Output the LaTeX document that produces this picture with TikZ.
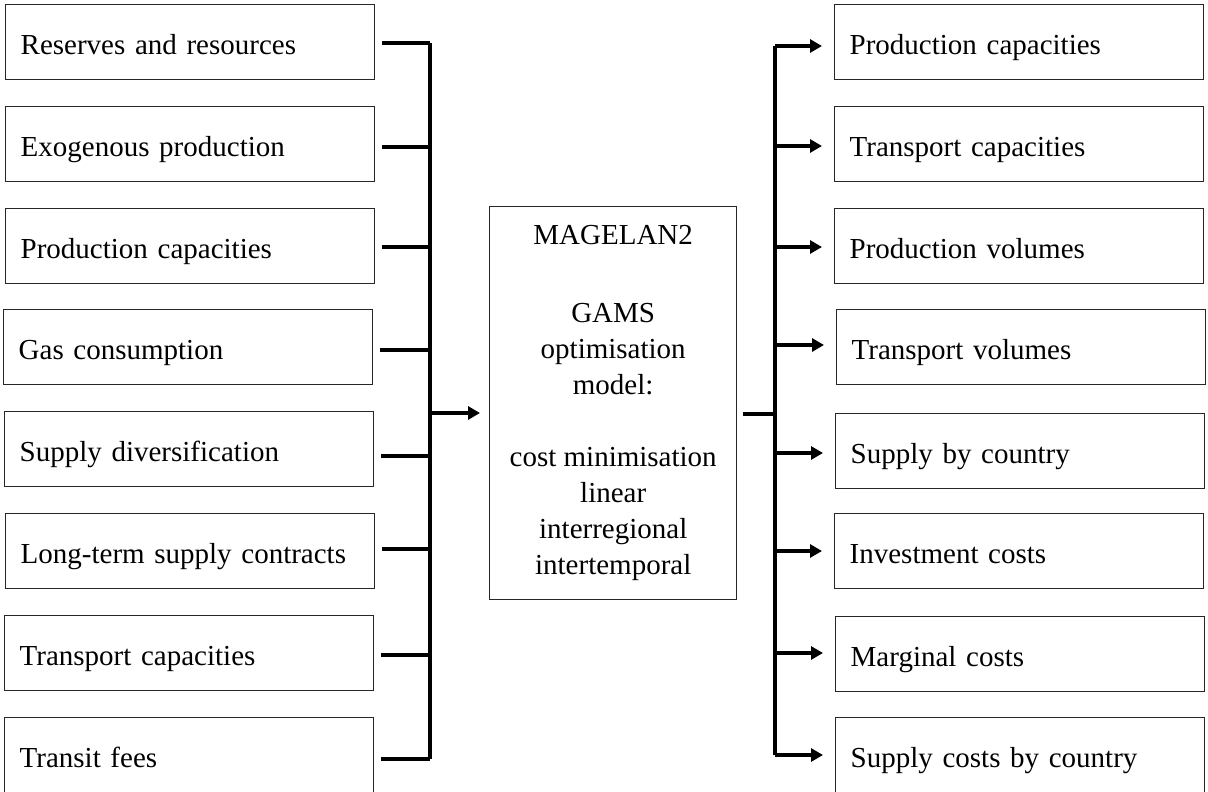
\documentclass[tikz,border=0pt]{standalone}
\usepackage{fontspec}
\setmainfont{Liberation Serif}
\usetikzlibrary{arrows.meta}
\begin{document}
\begin{tikzpicture}[x=1pt,y=-1pt,
  box/.style={draw=black!85, line width=1.4pt, anchor=north west, minimum width=369pt, minimum height=75pt,
    text width=339pt, inner xsep=15pt, inner ysep=0pt, align=left, text height=28pt, text depth=4pt,
    font=\fontsize{29}{35}\selectfont},
  mid/.style={draw=black!85, line width=1.4pt, anchor=north west, minimum width=247pt, minimum height=393pt,
    inner sep=0pt, align=center, font=\fontsize{29}{36}\selectfont},
  conn/.style={line width=4pt},
  arr/.style={line width=4pt, -{Triangle[length=12pt,width=13pt]}}]
\useasboundingbox (0,0) rectangle (1208,792);
% left input boxes
\node[box] (L1) at (5,4)   {Reserves and resources};
\node[box] (L2) at (5,106) {Exogenous production};
\node[box] (L3) at (5,208) {Production capacities};
\node[box] (L4) at (3,309) {Gas consumption};
\node[box] (L5) at (4,411) {Supply diversification};
\node[box] (L6) at (5,513) {Long-term supply contracts};
\node[box] (L7) at (4,615) {Transport capacities};
\node[box] (L8) at (4,717) {Transit fees};
% right output boxes
\node[box] (R1) at (834,4)   {Production capacities};
\node[box] (R2) at (834,106) {Transport capacities};
\node[box] (R3) at (834,208) {Production volumes};
\node[box] (R4) at (836,309) {Transport volumes};
\node[box] (R5) at (835,413) {Supply by country};
\node[box] (R6) at (834,513) {Investment costs};
\node[box] (R7) at (835,616) {Marginal costs};
\node[box] (R8) at (835,717) {Supply costs by country};
% centre model box
\node[mid] (M) at (489,206) {MAGELAN2\\[42pt]GAMS\\optimisation\\model:\\[36pt]cost minimisation\\linear\\interregional\\intertemporal};
% buses
\coordinate (busLtop) at (430,43);
\coordinate (busLbot) at (430,759);
\coordinate (busRtop) at (775,46);
\coordinate (busRbot) at (775,755);
\draw[conn] (busLtop) -- (busLbot);
\draw[conn] (busRtop) -- (busRbot);
% left stubs
\foreach \n/\yy in {L1/43,L2/147,L3/247,L4/350,L5/456,L6/549,L7/655,L8/759}{
  \draw[conn] ([xshift=7pt]\n.east |- 0,\yy) -- (busLtop |- 0,\yy);
}
% right arrows
\foreach \n/\yy in {R1/46,R2/146,R3/247,R4/345,R5/453,R6/551,R7/653,R8/755}{
  \draw[arr] (busRtop |- 0,\yy) -- ([xshift=-12pt]\n.west |- 0,\yy);
}
% centre connections
\draw[arr] (busLtop |- 0,413) -- ([xshift=-9pt]M.west |- 0,413);
\draw[conn] ([xshift=6pt]M.east |- 0,414) -- (busRtop |- 0,414);
\end{tikzpicture}
\end{document}
